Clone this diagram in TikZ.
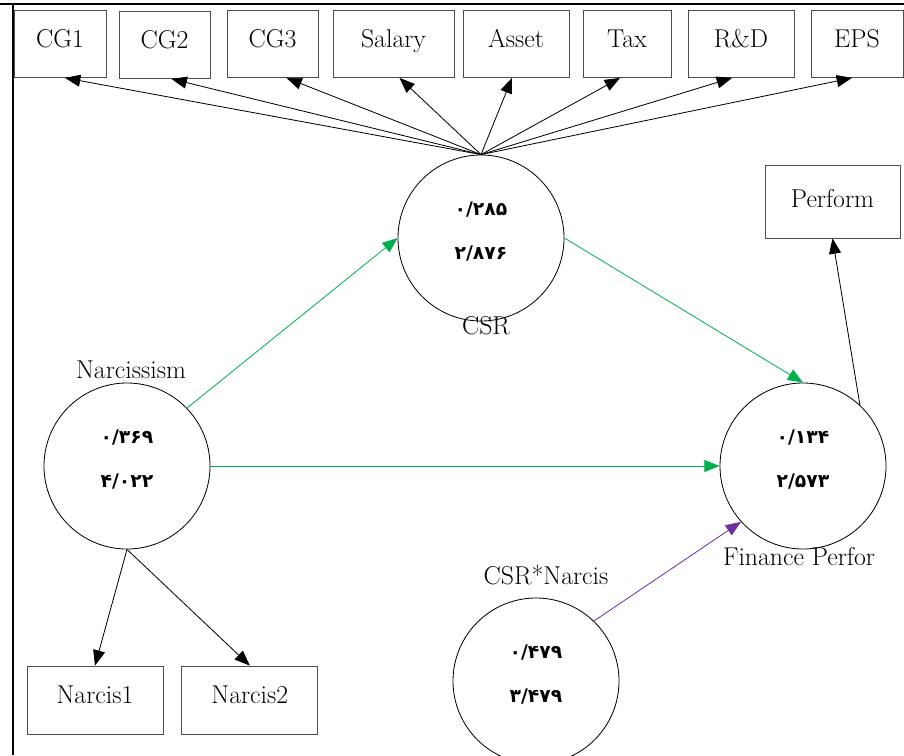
\documentclass[tikz,border=0pt]{standalone}
\usepackage{fontspec}
\usepackage{tikz}
\usetikzlibrary{arrows.meta,positioning,calc}
\newfontfamily\arabicfont[Script=Arabic]{DejaVu Sans}
\definecolor{pathgreen}{RGB}{0,176,80}
\definecolor{modpurple}{RGB}{112,48,160}

\begin{document}
\begin{tikzpicture}[
    x=0.03cm, y=-0.03cm,
    font=\fontsize{22}{26}\selectfont,
    latent/.style={circle, draw=black, line width=0.7pt, minimum size=4.98cm, inner sep=0pt, align=center, text depth=0.45cm, font=\arabicfont\bfseries\fontsize{16}{19}\selectfont},
    indicator/.style={rectangle, draw=black!70, line width=0.7pt, inner sep=0pt, text height=1.11cm, text depth=0.9cm},
    tag/.style={inner sep=0pt},
    load/.style={-{Triangle[length=4.6mm, width=3.6mm]}, line width=0.7pt},
    frame/.style={line width=1.6pt},
]
    \useasboundingbox (0,0) rectangle (904,755);
    \draw[frame] (0,4) -- (904,4);
    \draw[frame] (13,4) -- (13,755);

    \node[indicator, minimum width=2.76cm] (cg1) at (60,44) {CG1};
    \node[indicator, minimum width=2.73cm] (cg2) at (164.5,45) {CG2};
    \node[indicator, minimum width=2.73cm] (cg3) at (272.5,44) {CG3};
    \node[indicator, minimum width=3.63cm] (salary) at (393.5,44) {Salary};
    \node[indicator, minimum width=3.18cm] (asset) at (516,44) {Asset};
    \node[indicator, minimum width=2.64cm] (tax) at (627,44) {Tax};
    \node[indicator, minimum width=3.18cm] (rd) at (741,44) {R\&D};
    \node[indicator, minimum width=2.76cm] (eps) at (857,44) {EPS};

    \node[latent] (csr) at (481,238) {۰/۲۸۵\\[19pt]۲/۸۷۶};
    \node[latent] (narc) at (127,466) {۰/۳۶۹\\[19pt]۴/۰۲۲};
    \node[latent] (fin) at (803,466) {۰/۱۳۴\\[19pt]۲/۵۷۳};
    \node[latent] (inter) at (536,681) {۰/۴۷۹\\[19pt]۳/۴۷۹};

    \node[tag] (csrlab) at (486,326) {CSR};
    \node[tag] (narclab) at (131,370) {Narcissism};
    \node[tag] (finlab) at (799,557) {Finance Perfor};
    \node[tag] (interlab) at (546,575) {CSR*Narcis};

    \node[indicator, minimum width=4.05cm, text height=1.26cm, text depth=0.93cm] (perform) at (832.5,201.5) {Perform};
    \node[indicator, minimum width=4.08cm, text height=1.11cm, text depth=0.93cm] (narcis1) at (95,700) {Narcis1};
    \node[indicator, minimum width=4.08cm, text height=1.11cm, text depth=0.93cm, right=0.54cm of narcis1] (narcis2) {Narcis2};

    \draw[load] (csr.north) -- ($(cg1.south)+(5,0)$);
    \draw[load] (csr.north) -- ($(cg2.south)+(7,0)$);
    \draw[load] (csr.north) -- ($(cg3.south)+(14,0)$);
    \draw[load] (csr.north) -- ($(salary.south)+(6,0)$);
    \draw[load] (csr.north) -- ($(asset.south)+(-4,0)$);
    \draw[load] (csr.north) -- ($(tax.south)+(-7,0)$);
    \draw[load] (csr.north) -- ($(rd.south)+(-9,0)$);
    \draw[load] (csr.north) -- ($(eps.south)+(-5,0)$);

    \draw[load, pathgreen] (narc.44) -- (csr.west);
    \draw[load, pathgreen] (narc) -- (fin);
    \draw[load, pathgreen] (csr.east) -- (fin.north);
    \draw[load, modpurple] (inter.46) -- (fin.222);
    \draw[load] (fin.47) -- (perform.south);
    \draw[load] (narc.south) -- (narcis1.north);
    \draw[load] (narc.south) -- (narcis2.north);
\end{tikzpicture}
\end{document}
